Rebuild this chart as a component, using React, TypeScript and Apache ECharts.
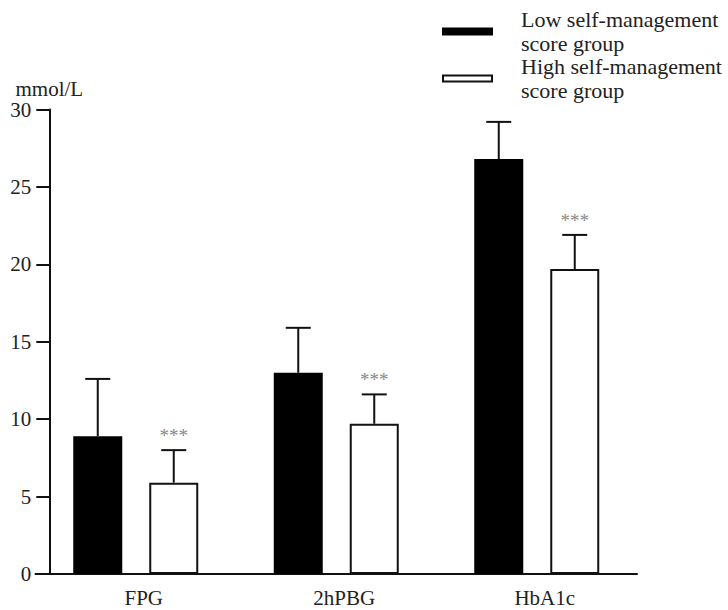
import React, { useEffect, useRef } from "react";
import * as echarts from "echarts";

const categories = ["FPG", "2hPBG", "HbA1c"];
const lowName = "Low self-management\nscore group";
const highName = "High self-management\nscore group";
const lowMeans = [8.9, 13.0, 26.8];
const lowSD = [3.7, 2.9, 2.4];
const highMeans = [5.9, 9.7, 19.7];
const highSD = [2.1, 1.9, 2.2];
const highMarks = ["***", "***", "***"];
const yTicks = { min: 0, max: 30, interval: 5 };
const yName = "mmol/L";

const FONT = "Liberation Serif";
const BAR_W = 49;
const BAR_GAP_PX = 27;
const HALF = (BAR_W + BAR_GAP_PX) / 2;

function errorSeries(means: number[], sds: number[], marks: string[] | null, side: number) {
  return {
    type: "custom",
    z: 5,
    silent: true,
    data: means.map((m, i) => [i, m, sds[i]]),
    encode: { x: 0, y: 1 },
    renderItem: (params: any, api: any) => {
      const idx = api.value(0);
      const mean = api.value(1);
      const sd = api.value(2);
      const base = api.coord([idx, mean]);
      const top = api.coord([idx, mean + sd]);
      const x = base[0] + side * HALF;
      const children: any[] = [
        {
          type: "line",
          shape: { x1: x, y1: base[1], x2: x, y2: top[1] },
          style: { stroke: "#111", lineWidth: 2 },
        },
        {
          type: "line",
          shape: { x1: x - 12.5, y1: top[1], x2: x + 12.5, y2: top[1] },
          style: { stroke: "#111", lineWidth: 2 },
        },
      ];
      if (marks) {
        children.push({
          type: "text",
          x: x,
          y: top[1] - 5,
          style: {
            text: marks[params.dataIndex],
            fill: "#888",
            fontSize: 19,
            fontFamily: FONT,
            align: "center",
            verticalAlign: "bottom",
          },
        });
      }
      return { type: "group", children };
    },
  };
}

export default function App() {
  const ref = useRef<HTMLDivElement>(null);
  useEffect(() => {
    if (!ref.current) return;
    const chart = echarts.init(ref.current, null, { renderer: "svg" });
    chart.setOption({
      animation: false,
      backgroundColor: "#fff",
      textStyle: { fontFamily: FONT, color: "#222" },
      legend: {
        orient: "vertical",
        left: 437,
        top: 3,
        itemWidth: 49,
        itemHeight: 6,
        itemGap: 0,
        icon: "rect",
        selectedMode: false,
        textStyle: {
          fontFamily: FONT,
          fontSize: 22,
          lineHeight: 23.5,
          color: "#222",
          padding: [0, 0, 0, 24],
        },
        data: [lowName, highName],
      },
      grid: { left: 35.5, right: 91, top: 109.5, bottom: 36, containLabel: false },
      xAxis: {
        type: "category",
        data: categories,
        axisLine: { lineStyle: { color: "#111", width: 2 } },
        axisTick: { alignWithLabel: true, length: 12, lineStyle: { color: "#111", width: 2 } },
        axisLabel: {
          fontFamily: FONT,
          fontSize: 21,
          color: "#222",
          margin: 13,
          padding: [0, 0, 0, 16],
        },
      },
      yAxis: {
        type: "value",
        min: yTicks.min,
        max: yTicks.max,
        interval: yTicks.interval,
        offset: -13.8,
        name: yName,
        nameLocation: "end",
        nameGap: 10,
        nameTextStyle: { fontFamily: FONT, fontSize: 21, color: "#222" },
        splitLine: { show: false },
        axisLine: { show: true, lineStyle: { color: "#111", width: 2 } },
        axisTick: { show: true, length: 13, lineStyle: { color: "#111", width: 2 } },
        axisLabel: { fontFamily: FONT, fontSize: 21, color: "#222", margin: 18 },
      },
      series: [
        {
          name: lowName,
          type: "bar",
          data: lowMeans,
          barWidth: BAR_W,
          barGap: (BAR_GAP_PX / BAR_W) * 100 + "%",
          itemStyle: { color: "#000", borderColor: "#000", borderWidth: 2 },
        },
        {
          name: highName,
          type: "bar",
          data: highMeans,
          barWidth: BAR_W,
          itemStyle: { color: "#fff", borderColor: "#111", borderWidth: 2 },
        },
        errorSeries(lowMeans, lowSD, null, -1),
        errorSeries(highMeans, highSD, highMarks, 1),
      ],
    });
    return () => chart.dispose();
  }, []);
  return (
    <div
      ref={ref}
      style={{ position: "fixed", left: 0, top: 0, width: 728, height: 610 }}
    />
  );
}
